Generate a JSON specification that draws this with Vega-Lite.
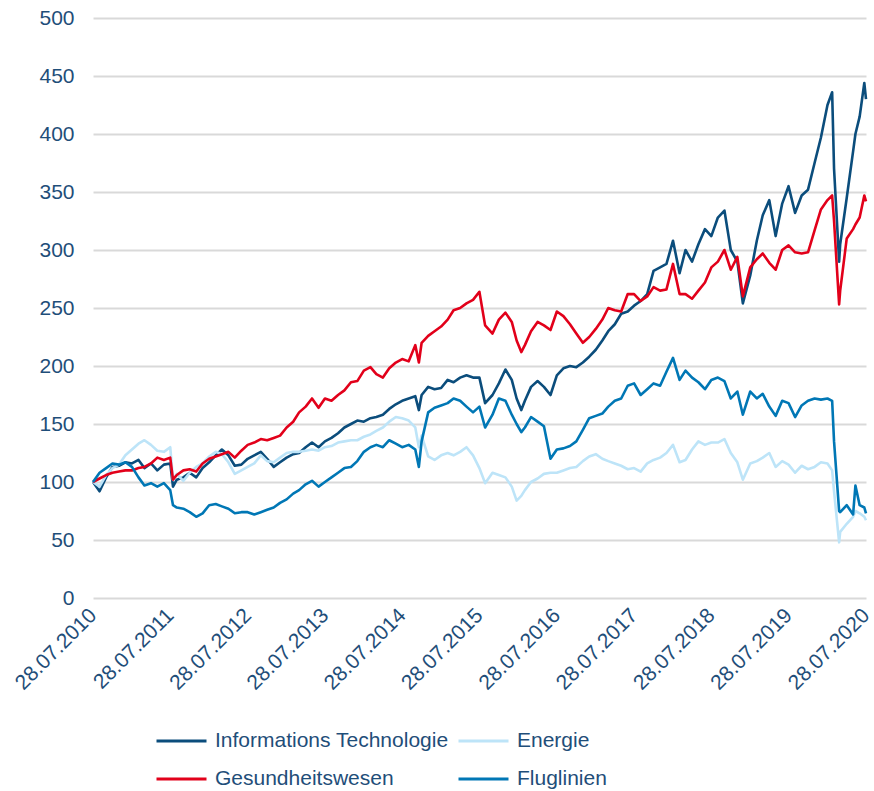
{
"$schema":"https://vega.github.io/schema/vega-lite/v6.json",
"width":773,"height":580,
"autosize":{"type":"none"},
"padding":{"left":93,"top":18,"right":8,"bottom":193},
"background":"white",
"config":{"font":"Liberation Sans","view":{"stroke":null}},
"data":{"values":[
{"Datum":"2010-07-28","Serie":"Informations Technologie","Wert":100},{"Datum":"2010-07-28","Serie":"Energie","Wert":100},{"Datum":"2010-07-28","Serie":"Gesundheitswesen","Wert":100},{"Datum":"2010-07-28","Serie":"Fluglinien","Wert":100},
{"Datum":"2010-08-28","Serie":"Informations Technologie","Wert":92},{"Datum":"2010-08-28","Serie":"Energie","Wert":96},{"Datum":"2010-08-28","Serie":"Gesundheitswesen","Wert":103},{"Datum":"2010-08-28","Serie":"Fluglinien","Wert":108},
{"Datum":"2010-09-28","Serie":"Informations Technologie","Wert":104},{"Datum":"2010-09-28","Serie":"Energie","Wert":106},{"Datum":"2010-09-28","Serie":"Gesundheitswesen","Wert":106},{"Datum":"2010-09-28","Serie":"Fluglinien","Wert":112},
{"Datum":"2010-10-28","Serie":"Informations Technologie","Wert":113},{"Datum":"2010-10-28","Serie":"Energie","Wert":112},{"Datum":"2010-10-28","Serie":"Gesundheitswesen","Wert":108},{"Datum":"2010-10-28","Serie":"Fluglinien","Wert":116},
{"Datum":"2010-11-28","Serie":"Informations Technologie","Wert":114},{"Datum":"2010-11-28","Serie":"Energie","Wert":115},{"Datum":"2010-11-28","Serie":"Gesundheitswesen","Wert":109},{"Datum":"2010-11-28","Serie":"Fluglinien","Wert":115},
{"Datum":"2010-12-28","Serie":"Informations Technologie","Wert":117},{"Datum":"2010-12-28","Serie":"Energie","Wert":123},{"Datum":"2010-12-28","Serie":"Gesundheitswesen","Wert":110},{"Datum":"2010-12-28","Serie":"Fluglinien","Wert":117},
{"Datum":"2011-01-28","Serie":"Informations Technologie","Wert":116},{"Datum":"2011-01-28","Serie":"Energie","Wert":128},{"Datum":"2011-01-28","Serie":"Gesundheitswesen","Wert":110},{"Datum":"2011-01-28","Serie":"Fluglinien","Wert":113},
{"Datum":"2011-02-28","Serie":"Informations Technologie","Wert":119},{"Datum":"2011-02-28","Serie":"Energie","Wert":133},{"Datum":"2011-02-28","Serie":"Gesundheitswesen","Wert":112},{"Datum":"2011-02-28","Serie":"Fluglinien","Wert":104},
{"Datum":"2011-03-28","Serie":"Informations Technologie","Wert":112},{"Datum":"2011-03-28","Serie":"Energie","Wert":136},{"Datum":"2011-03-28","Serie":"Gesundheitswesen","Wert":113},{"Datum":"2011-03-28","Serie":"Fluglinien","Wert":97},
{"Datum":"2011-04-28","Serie":"Informations Technologie","Wert":116},{"Datum":"2011-04-28","Serie":"Energie","Wert":132},{"Datum":"2011-04-28","Serie":"Gesundheitswesen","Wert":116},{"Datum":"2011-04-28","Serie":"Fluglinien","Wert":99},
{"Datum":"2011-05-28","Serie":"Informations Technologie","Wert":110},{"Datum":"2011-05-28","Serie":"Energie","Wert":127},{"Datum":"2011-05-28","Serie":"Gesundheitswesen","Wert":121},{"Datum":"2011-05-28","Serie":"Fluglinien","Wert":96},
{"Datum":"2011-06-28","Serie":"Informations Technologie","Wert":115},{"Datum":"2011-06-28","Serie":"Energie","Wert":126},{"Datum":"2011-06-28","Serie":"Gesundheitswesen","Wert":119},{"Datum":"2011-06-28","Serie":"Fluglinien","Wert":99},
{"Datum":"2011-07-28","Serie":"Informations Technologie","Wert":116},{"Datum":"2011-07-28","Serie":"Energie","Wert":130},{"Datum":"2011-07-28","Serie":"Gesundheitswesen","Wert":121},{"Datum":"2011-07-28","Serie":"Fluglinien","Wert":93},
{"Datum":"2011-08-10","Serie":"Informations Technologie","Wert":96},{"Datum":"2011-08-10","Serie":"Energie","Wert":102},{"Datum":"2011-08-10","Serie":"Gesundheitswesen","Wert":102},{"Datum":"2011-08-10","Serie":"Fluglinien","Wert":80},
{"Datum":"2011-08-28","Serie":"Informations Technologie","Wert":102},{"Datum":"2011-08-28","Serie":"Energie","Wert":107},{"Datum":"2011-08-28","Serie":"Gesundheitswesen","Wert":106},{"Datum":"2011-08-28","Serie":"Fluglinien","Wert":78},
{"Datum":"2011-09-28","Serie":"Informations Technologie","Wert":104},{"Datum":"2011-09-28","Serie":"Energie","Wert":101},{"Datum":"2011-09-28","Serie":"Gesundheitswesen","Wert":110},{"Datum":"2011-09-28","Serie":"Fluglinien","Wert":77},
{"Datum":"2011-10-28","Serie":"Informations Technologie","Wert":108},{"Datum":"2011-10-28","Serie":"Energie","Wert":108},{"Datum":"2011-10-28","Serie":"Gesundheitswesen","Wert":111},{"Datum":"2011-10-28","Serie":"Fluglinien","Wert":74},
{"Datum":"2011-11-28","Serie":"Informations Technologie","Wert":104},{"Datum":"2011-11-28","Serie":"Energie","Wert":113},{"Datum":"2011-11-28","Serie":"Gesundheitswesen","Wert":109},{"Datum":"2011-11-28","Serie":"Fluglinien","Wert":70},
{"Datum":"2011-12-28","Serie":"Informations Technologie","Wert":112},{"Datum":"2011-12-28","Serie":"Energie","Wert":116},{"Datum":"2011-12-28","Serie":"Gesundheitswesen","Wert":116},{"Datum":"2011-12-28","Serie":"Fluglinien","Wert":73},
{"Datum":"2012-01-28","Serie":"Informations Technologie","Wert":117},{"Datum":"2012-01-28","Serie":"Energie","Wert":122},{"Datum":"2012-01-28","Serie":"Gesundheitswesen","Wert":120},{"Datum":"2012-01-28","Serie":"Fluglinien","Wert":80},
{"Datum":"2012-02-28","Serie":"Informations Technologie","Wert":123},{"Datum":"2012-02-28","Serie":"Energie","Wert":126},{"Datum":"2012-02-28","Serie":"Gesundheitswesen","Wert":122},{"Datum":"2012-02-28","Serie":"Fluglinien","Wert":81},
{"Datum":"2012-03-28","Serie":"Informations Technologie","Wert":128},{"Datum":"2012-03-28","Serie":"Energie","Wert":124},{"Datum":"2012-03-28","Serie":"Gesundheitswesen","Wert":124},{"Datum":"2012-03-28","Serie":"Fluglinien","Wert":79},
{"Datum":"2012-04-28","Serie":"Informations Technologie","Wert":123},{"Datum":"2012-04-28","Serie":"Energie","Wert":117},{"Datum":"2012-04-28","Serie":"Gesundheitswesen","Wert":126},{"Datum":"2012-04-28","Serie":"Fluglinien","Wert":77},
{"Datum":"2012-05-28","Serie":"Informations Technologie","Wert":114},{"Datum":"2012-05-28","Serie":"Energie","Wert":107},{"Datum":"2012-05-28","Serie":"Gesundheitswesen","Wert":121},{"Datum":"2012-05-28","Serie":"Fluglinien","Wert":73},
{"Datum":"2012-06-28","Serie":"Informations Technologie","Wert":115},{"Datum":"2012-06-28","Serie":"Energie","Wert":110},{"Datum":"2012-06-28","Serie":"Gesundheitswesen","Wert":127},{"Datum":"2012-06-28","Serie":"Fluglinien","Wert":74},
{"Datum":"2012-07-28","Serie":"Informations Technologie","Wert":120},{"Datum":"2012-07-28","Serie":"Energie","Wert":113},{"Datum":"2012-07-28","Serie":"Gesundheitswesen","Wert":132},{"Datum":"2012-07-28","Serie":"Fluglinien","Wert":74},
{"Datum":"2012-08-28","Serie":"Informations Technologie","Wert":123},{"Datum":"2012-08-28","Serie":"Energie","Wert":116},{"Datum":"2012-08-28","Serie":"Gesundheitswesen","Wert":134},{"Datum":"2012-08-28","Serie":"Fluglinien","Wert":72},
{"Datum":"2012-09-28","Serie":"Informations Technologie","Wert":126},{"Datum":"2012-09-28","Serie":"Energie","Wert":123},{"Datum":"2012-09-28","Serie":"Gesundheitswesen","Wert":137},{"Datum":"2012-09-28","Serie":"Fluglinien","Wert":74},
{"Datum":"2012-10-28","Serie":"Informations Technologie","Wert":120},{"Datum":"2012-10-28","Serie":"Energie","Wert":118},{"Datum":"2012-10-28","Serie":"Gesundheitswesen","Wert":136},{"Datum":"2012-10-28","Serie":"Fluglinien","Wert":76},
{"Datum":"2012-11-28","Serie":"Informations Technologie","Wert":113},{"Datum":"2012-11-28","Serie":"Energie","Wert":117},{"Datum":"2012-11-28","Serie":"Gesundheitswesen","Wert":138},{"Datum":"2012-11-28","Serie":"Fluglinien","Wert":78},
{"Datum":"2012-12-28","Serie":"Informations Technologie","Wert":117},{"Datum":"2012-12-28","Serie":"Energie","Wert":121},{"Datum":"2012-12-28","Serie":"Gesundheitswesen","Wert":140},{"Datum":"2012-12-28","Serie":"Fluglinien","Wert":82},
{"Datum":"2013-01-28","Serie":"Informations Technologie","Wert":121},{"Datum":"2013-01-28","Serie":"Energie","Wert":125},{"Datum":"2013-01-28","Serie":"Gesundheitswesen","Wert":147},{"Datum":"2013-01-28","Serie":"Fluglinien","Wert":85},
{"Datum":"2013-02-28","Serie":"Informations Technologie","Wert":124},{"Datum":"2013-02-28","Serie":"Energie","Wert":126},{"Datum":"2013-02-28","Serie":"Gesundheitswesen","Wert":152},{"Datum":"2013-02-28","Serie":"Fluglinien","Wert":90},
{"Datum":"2013-03-28","Serie":"Informations Technologie","Wert":125},{"Datum":"2013-03-28","Serie":"Energie","Wert":126},{"Datum":"2013-03-28","Serie":"Gesundheitswesen","Wert":160},{"Datum":"2013-03-28","Serie":"Fluglinien","Wert":93},
{"Datum":"2013-04-28","Serie":"Informations Technologie","Wert":130},{"Datum":"2013-04-28","Serie":"Energie","Wert":127},{"Datum":"2013-04-28","Serie":"Gesundheitswesen","Wert":165},{"Datum":"2013-04-28","Serie":"Fluglinien","Wert":98},
{"Datum":"2013-05-28","Serie":"Informations Technologie","Wert":134},{"Datum":"2013-05-28","Serie":"Energie","Wert":128},{"Datum":"2013-05-28","Serie":"Gesundheitswesen","Wert":172},{"Datum":"2013-05-28","Serie":"Fluglinien","Wert":101},
{"Datum":"2013-06-28","Serie":"Informations Technologie","Wert":130},{"Datum":"2013-06-28","Serie":"Energie","Wert":127},{"Datum":"2013-06-28","Serie":"Gesundheitswesen","Wert":164},{"Datum":"2013-06-28","Serie":"Fluglinien","Wert":96},
{"Datum":"2013-07-28","Serie":"Informations Technologie","Wert":135},{"Datum":"2013-07-28","Serie":"Energie","Wert":130},{"Datum":"2013-07-28","Serie":"Gesundheitswesen","Wert":172},{"Datum":"2013-07-28","Serie":"Fluglinien","Wert":100},
{"Datum":"2013-08-28","Serie":"Informations Technologie","Wert":138},{"Datum":"2013-08-28","Serie":"Energie","Wert":131},{"Datum":"2013-08-28","Serie":"Gesundheitswesen","Wert":170},{"Datum":"2013-08-28","Serie":"Fluglinien","Wert":104},
{"Datum":"2013-09-28","Serie":"Informations Technologie","Wert":142},{"Datum":"2013-09-28","Serie":"Energie","Wert":134},{"Datum":"2013-09-28","Serie":"Gesundheitswesen","Wert":175},{"Datum":"2013-09-28","Serie":"Fluglinien","Wert":108},
{"Datum":"2013-10-28","Serie":"Informations Technologie","Wert":147},{"Datum":"2013-10-28","Serie":"Energie","Wert":135},{"Datum":"2013-10-28","Serie":"Gesundheitswesen","Wert":179},{"Datum":"2013-10-28","Serie":"Fluglinien","Wert":112},
{"Datum":"2013-11-28","Serie":"Informations Technologie","Wert":150},{"Datum":"2013-11-28","Serie":"Energie","Wert":136},{"Datum":"2013-11-28","Serie":"Gesundheitswesen","Wert":186},{"Datum":"2013-11-28","Serie":"Fluglinien","Wert":113},
{"Datum":"2013-12-28","Serie":"Informations Technologie","Wert":153},{"Datum":"2013-12-28","Serie":"Energie","Wert":136},{"Datum":"2013-12-28","Serie":"Gesundheitswesen","Wert":187},{"Datum":"2013-12-28","Serie":"Fluglinien","Wert":118},
{"Datum":"2014-01-28","Serie":"Informations Technologie","Wert":152},{"Datum":"2014-01-28","Serie":"Energie","Wert":139},{"Datum":"2014-01-28","Serie":"Gesundheitswesen","Wert":196},{"Datum":"2014-01-28","Serie":"Fluglinien","Wert":126},
{"Datum":"2014-02-28","Serie":"Informations Technologie","Wert":155},{"Datum":"2014-02-28","Serie":"Energie","Wert":141},{"Datum":"2014-02-28","Serie":"Gesundheitswesen","Wert":199},{"Datum":"2014-02-28","Serie":"Fluglinien","Wert":130},
{"Datum":"2014-03-28","Serie":"Informations Technologie","Wert":156},{"Datum":"2014-03-28","Serie":"Energie","Wert":144},{"Datum":"2014-03-28","Serie":"Gesundheitswesen","Wert":193},{"Datum":"2014-03-28","Serie":"Fluglinien","Wert":132},
{"Datum":"2014-04-28","Serie":"Informations Technologie","Wert":158},{"Datum":"2014-04-28","Serie":"Energie","Wert":147},{"Datum":"2014-04-28","Serie":"Gesundheitswesen","Wert":190},{"Datum":"2014-04-28","Serie":"Fluglinien","Wert":130},
{"Datum":"2014-05-28","Serie":"Informations Technologie","Wert":163},{"Datum":"2014-05-28","Serie":"Energie","Wert":152},{"Datum":"2014-05-28","Serie":"Gesundheitswesen","Wert":198},{"Datum":"2014-05-28","Serie":"Fluglinien","Wert":136},
{"Datum":"2014-06-28","Serie":"Informations Technologie","Wert":167},{"Datum":"2014-06-28","Serie":"Energie","Wert":156},{"Datum":"2014-06-28","Serie":"Gesundheitswesen","Wert":203},{"Datum":"2014-06-28","Serie":"Fluglinien","Wert":133},
{"Datum":"2014-07-28","Serie":"Informations Technologie","Wert":170},{"Datum":"2014-07-28","Serie":"Energie","Wert":155},{"Datum":"2014-07-28","Serie":"Gesundheitswesen","Wert":206},{"Datum":"2014-07-28","Serie":"Fluglinien","Wert":130},
{"Datum":"2014-08-28","Serie":"Informations Technologie","Wert":172},{"Datum":"2014-08-28","Serie":"Energie","Wert":153},{"Datum":"2014-08-28","Serie":"Gesundheitswesen","Wert":204},{"Datum":"2014-08-28","Serie":"Fluglinien","Wert":132},
{"Datum":"2014-09-28","Serie":"Informations Technologie","Wert":174},{"Datum":"2014-09-28","Serie":"Energie","Wert":147},{"Datum":"2014-09-28","Serie":"Gesundheitswesen","Wert":218},{"Datum":"2014-09-28","Serie":"Fluglinien","Wert":128},
{"Datum":"2014-10-15","Serie":"Informations Technologie","Wert":162},{"Datum":"2014-10-15","Serie":"Energie","Wert":130},{"Datum":"2014-10-15","Serie":"Gesundheitswesen","Wert":203},{"Datum":"2014-10-15","Serie":"Fluglinien","Wert":113},
{"Datum":"2014-10-28","Serie":"Informations Technologie","Wert":175},{"Datum":"2014-10-28","Serie":"Energie","Wert":140},{"Datum":"2014-10-28","Serie":"Gesundheitswesen","Wert":220},{"Datum":"2014-10-28","Serie":"Fluglinien","Wert":135},
{"Datum":"2014-11-28","Serie":"Informations Technologie","Wert":182},{"Datum":"2014-11-28","Serie":"Energie","Wert":122},{"Datum":"2014-11-28","Serie":"Gesundheitswesen","Wert":226},{"Datum":"2014-11-28","Serie":"Fluglinien","Wert":160},
{"Datum":"2014-12-28","Serie":"Informations Technologie","Wert":180},{"Datum":"2014-12-28","Serie":"Energie","Wert":119},{"Datum":"2014-12-28","Serie":"Gesundheitswesen","Wert":230},{"Datum":"2014-12-28","Serie":"Fluglinien","Wert":164},
{"Datum":"2015-01-28","Serie":"Informations Technologie","Wert":181},{"Datum":"2015-01-28","Serie":"Energie","Wert":123},{"Datum":"2015-01-28","Serie":"Gesundheitswesen","Wert":234},{"Datum":"2015-01-28","Serie":"Fluglinien","Wert":166},
{"Datum":"2015-02-28","Serie":"Informations Technologie","Wert":188},{"Datum":"2015-02-28","Serie":"Energie","Wert":125},{"Datum":"2015-02-28","Serie":"Gesundheitswesen","Wert":240},{"Datum":"2015-02-28","Serie":"Fluglinien","Wert":168},
{"Datum":"2015-03-28","Serie":"Informations Technologie","Wert":186},{"Datum":"2015-03-28","Serie":"Energie","Wert":123},{"Datum":"2015-03-28","Serie":"Gesundheitswesen","Wert":248},{"Datum":"2015-03-28","Serie":"Fluglinien","Wert":172},
{"Datum":"2015-04-28","Serie":"Informations Technologie","Wert":190},{"Datum":"2015-04-28","Serie":"Energie","Wert":126},{"Datum":"2015-04-28","Serie":"Gesundheitswesen","Wert":250},{"Datum":"2015-04-28","Serie":"Fluglinien","Wert":170},
{"Datum":"2015-05-28","Serie":"Informations Technologie","Wert":192},{"Datum":"2015-05-28","Serie":"Energie","Wert":130},{"Datum":"2015-05-28","Serie":"Gesundheitswesen","Wert":254},{"Datum":"2015-05-28","Serie":"Fluglinien","Wert":165},
{"Datum":"2015-06-28","Serie":"Informations Technologie","Wert":190},{"Datum":"2015-06-28","Serie":"Energie","Wert":123},{"Datum":"2015-06-28","Serie":"Gesundheitswesen","Wert":257},{"Datum":"2015-06-28","Serie":"Fluglinien","Wert":160},
{"Datum":"2015-07-28","Serie":"Informations Technologie","Wert":190},{"Datum":"2015-07-28","Serie":"Energie","Wert":112},{"Datum":"2015-07-28","Serie":"Gesundheitswesen","Wert":264},{"Datum":"2015-07-28","Serie":"Fluglinien","Wert":165},
{"Datum":"2015-08-24","Serie":"Informations Technologie","Wert":168},{"Datum":"2015-08-24","Serie":"Energie","Wert":99},{"Datum":"2015-08-24","Serie":"Gesundheitswesen","Wert":235},{"Datum":"2015-08-24","Serie":"Fluglinien","Wert":147},
{"Datum":"2015-09-28","Serie":"Informations Technologie","Wert":175},{"Datum":"2015-09-28","Serie":"Energie","Wert":108},{"Datum":"2015-09-28","Serie":"Gesundheitswesen","Wert":228},{"Datum":"2015-09-28","Serie":"Fluglinien","Wert":158},
{"Datum":"2015-10-28","Serie":"Informations Technologie","Wert":185},{"Datum":"2015-10-28","Serie":"Energie","Wert":106},{"Datum":"2015-10-28","Serie":"Gesundheitswesen","Wert":240},{"Datum":"2015-10-28","Serie":"Fluglinien","Wert":172},
{"Datum":"2015-11-28","Serie":"Informations Technologie","Wert":197},{"Datum":"2015-11-28","Serie":"Energie","Wert":104},{"Datum":"2015-11-28","Serie":"Gesundheitswesen","Wert":246},{"Datum":"2015-11-28","Serie":"Fluglinien","Wert":170},
{"Datum":"2015-12-28","Serie":"Informations Technologie","Wert":188},{"Datum":"2015-12-28","Serie":"Energie","Wert":96},{"Datum":"2015-12-28","Serie":"Gesundheitswesen","Wert":238},{"Datum":"2015-12-28","Serie":"Fluglinien","Wert":158},
{"Datum":"2016-01-20","Serie":"Informations Technologie","Wert":172},{"Datum":"2016-01-20","Serie":"Energie","Wert":84},{"Datum":"2016-01-20","Serie":"Gesundheitswesen","Wert":222},{"Datum":"2016-01-20","Serie":"Fluglinien","Wert":150},
{"Datum":"2016-02-11","Serie":"Informations Technologie","Wert":162},{"Datum":"2016-02-11","Serie":"Energie","Wert":88},{"Datum":"2016-02-11","Serie":"Gesundheitswesen","Wert":212},{"Datum":"2016-02-11","Serie":"Fluglinien","Wert":143},
{"Datum":"2016-02-28","Serie":"Informations Technologie","Wert":170},{"Datum":"2016-02-28","Serie":"Energie","Wert":93},{"Datum":"2016-02-28","Serie":"Gesundheitswesen","Wert":218},{"Datum":"2016-02-28","Serie":"Fluglinien","Wert":147},
{"Datum":"2016-03-28","Serie":"Informations Technologie","Wert":182},{"Datum":"2016-03-28","Serie":"Energie","Wert":100},{"Datum":"2016-03-28","Serie":"Gesundheitswesen","Wert":230},{"Datum":"2016-03-28","Serie":"Fluglinien","Wert":156},
{"Datum":"2016-04-28","Serie":"Informations Technologie","Wert":187},{"Datum":"2016-04-28","Serie":"Energie","Wert":103},{"Datum":"2016-04-28","Serie":"Gesundheitswesen","Wert":238},{"Datum":"2016-04-28","Serie":"Fluglinien","Wert":152},
{"Datum":"2016-05-28","Serie":"Informations Technologie","Wert":182},{"Datum":"2016-05-28","Serie":"Energie","Wert":107},{"Datum":"2016-05-28","Serie":"Gesundheitswesen","Wert":235},{"Datum":"2016-05-28","Serie":"Fluglinien","Wert":148},
{"Datum":"2016-06-28","Serie":"Informations Technologie","Wert":175},{"Datum":"2016-06-28","Serie":"Energie","Wert":108},{"Datum":"2016-06-28","Serie":"Gesundheitswesen","Wert":231},{"Datum":"2016-06-28","Serie":"Fluglinien","Wert":120},
{"Datum":"2016-07-28","Serie":"Informations Technologie","Wert":192},{"Datum":"2016-07-28","Serie":"Energie","Wert":108},{"Datum":"2016-07-28","Serie":"Gesundheitswesen","Wert":247},{"Datum":"2016-07-28","Serie":"Fluglinien","Wert":128},
{"Datum":"2016-08-28","Serie":"Informations Technologie","Wert":198},{"Datum":"2016-08-28","Serie":"Energie","Wert":110},{"Datum":"2016-08-28","Serie":"Gesundheitswesen","Wert":243},{"Datum":"2016-08-28","Serie":"Fluglinien","Wert":129},
{"Datum":"2016-09-28","Serie":"Informations Technologie","Wert":200},{"Datum":"2016-09-28","Serie":"Energie","Wert":112},{"Datum":"2016-09-28","Serie":"Gesundheitswesen","Wert":236},{"Datum":"2016-09-28","Serie":"Fluglinien","Wert":131},
{"Datum":"2016-10-28","Serie":"Informations Technologie","Wert":199},{"Datum":"2016-10-28","Serie":"Energie","Wert":113},{"Datum":"2016-10-28","Serie":"Gesundheitswesen","Wert":228},{"Datum":"2016-10-28","Serie":"Fluglinien","Wert":135},
{"Datum":"2016-11-28","Serie":"Informations Technologie","Wert":203},{"Datum":"2016-11-28","Serie":"Energie","Wert":118},{"Datum":"2016-11-28","Serie":"Gesundheitswesen","Wert":220},{"Datum":"2016-11-28","Serie":"Fluglinien","Wert":145},
{"Datum":"2016-12-28","Serie":"Informations Technologie","Wert":208},{"Datum":"2016-12-28","Serie":"Energie","Wert":122},{"Datum":"2016-12-28","Serie":"Gesundheitswesen","Wert":225},{"Datum":"2016-12-28","Serie":"Fluglinien","Wert":155},
{"Datum":"2017-01-28","Serie":"Informations Technologie","Wert":214},{"Datum":"2017-01-28","Serie":"Energie","Wert":124},{"Datum":"2017-01-28","Serie":"Gesundheitswesen","Wert":232},{"Datum":"2017-01-28","Serie":"Fluglinien","Wert":157},
{"Datum":"2017-02-28","Serie":"Informations Technologie","Wert":222},{"Datum":"2017-02-28","Serie":"Energie","Wert":120},{"Datum":"2017-02-28","Serie":"Gesundheitswesen","Wert":240},{"Datum":"2017-02-28","Serie":"Fluglinien","Wert":159},
{"Datum":"2017-03-28","Serie":"Informations Technologie","Wert":230},{"Datum":"2017-03-28","Serie":"Energie","Wert":118},{"Datum":"2017-03-28","Serie":"Gesundheitswesen","Wert":250},{"Datum":"2017-03-28","Serie":"Fluglinien","Wert":165},
{"Datum":"2017-04-28","Serie":"Informations Technologie","Wert":236},{"Datum":"2017-04-28","Serie":"Energie","Wert":116},{"Datum":"2017-04-28","Serie":"Gesundheitswesen","Wert":248},{"Datum":"2017-04-28","Serie":"Fluglinien","Wert":170},
{"Datum":"2017-05-28","Serie":"Informations Technologie","Wert":245},{"Datum":"2017-05-28","Serie":"Energie","Wert":114},{"Datum":"2017-05-28","Serie":"Gesundheitswesen","Wert":247},{"Datum":"2017-05-28","Serie":"Fluglinien","Wert":172},
{"Datum":"2017-06-28","Serie":"Informations Technologie","Wert":247},{"Datum":"2017-06-28","Serie":"Energie","Wert":111},{"Datum":"2017-06-28","Serie":"Gesundheitswesen","Wert":262},{"Datum":"2017-06-28","Serie":"Fluglinien","Wert":183},
{"Datum":"2017-07-28","Serie":"Informations Technologie","Wert":252},{"Datum":"2017-07-28","Serie":"Energie","Wert":112},{"Datum":"2017-07-28","Serie":"Gesundheitswesen","Wert":262},{"Datum":"2017-07-28","Serie":"Fluglinien","Wert":185},
{"Datum":"2017-08-28","Serie":"Informations Technologie","Wert":256},{"Datum":"2017-08-28","Serie":"Energie","Wert":109},{"Datum":"2017-08-28","Serie":"Gesundheitswesen","Wert":256},{"Datum":"2017-08-28","Serie":"Fluglinien","Wert":175},
{"Datum":"2017-09-28","Serie":"Informations Technologie","Wert":262},{"Datum":"2017-09-28","Serie":"Energie","Wert":116},{"Datum":"2017-09-28","Serie":"Gesundheitswesen","Wert":260},{"Datum":"2017-09-28","Serie":"Fluglinien","Wert":180},
{"Datum":"2017-10-28","Serie":"Informations Technologie","Wert":282},{"Datum":"2017-10-28","Serie":"Energie","Wert":119},{"Datum":"2017-10-28","Serie":"Gesundheitswesen","Wert":268},{"Datum":"2017-10-28","Serie":"Fluglinien","Wert":185},
{"Datum":"2017-11-28","Serie":"Informations Technologie","Wert":285},{"Datum":"2017-11-28","Serie":"Energie","Wert":121},{"Datum":"2017-11-28","Serie":"Gesundheitswesen","Wert":265},{"Datum":"2017-11-28","Serie":"Fluglinien","Wert":183},
{"Datum":"2017-12-28","Serie":"Informations Technologie","Wert":288},{"Datum":"2017-12-28","Serie":"Energie","Wert":125},{"Datum":"2017-12-28","Serie":"Gesundheitswesen","Wert":266},{"Datum":"2017-12-28","Serie":"Fluglinien","Wert":195},
{"Datum":"2018-01-28","Serie":"Informations Technologie","Wert":308},{"Datum":"2018-01-28","Serie":"Energie","Wert":132},{"Datum":"2018-01-28","Serie":"Gesundheitswesen","Wert":288},{"Datum":"2018-01-28","Serie":"Fluglinien","Wert":207},
{"Datum":"2018-02-28","Serie":"Informations Technologie","Wert":280},{"Datum":"2018-02-28","Serie":"Energie","Wert":117},{"Datum":"2018-02-28","Serie":"Gesundheitswesen","Wert":262},{"Datum":"2018-02-28","Serie":"Fluglinien","Wert":188},
{"Datum":"2018-03-28","Serie":"Informations Technologie","Wert":300},{"Datum":"2018-03-28","Serie":"Energie","Wert":119},{"Datum":"2018-03-28","Serie":"Gesundheitswesen","Wert":262},{"Datum":"2018-03-28","Serie":"Fluglinien","Wert":196},
{"Datum":"2018-04-28","Serie":"Informations Technologie","Wert":290},{"Datum":"2018-04-28","Serie":"Energie","Wert":128},{"Datum":"2018-04-28","Serie":"Gesundheitswesen","Wert":258},{"Datum":"2018-04-28","Serie":"Fluglinien","Wert":190},
{"Datum":"2018-05-28","Serie":"Informations Technologie","Wert":305},{"Datum":"2018-05-28","Serie":"Energie","Wert":135},{"Datum":"2018-05-28","Serie":"Gesundheitswesen","Wert":265},{"Datum":"2018-05-28","Serie":"Fluglinien","Wert":186},
{"Datum":"2018-06-28","Serie":"Informations Technologie","Wert":318},{"Datum":"2018-06-28","Serie":"Energie","Wert":132},{"Datum":"2018-06-28","Serie":"Gesundheitswesen","Wert":272},{"Datum":"2018-06-28","Serie":"Fluglinien","Wert":180},
{"Datum":"2018-07-28","Serie":"Informations Technologie","Wert":312},{"Datum":"2018-07-28","Serie":"Energie","Wert":134},{"Datum":"2018-07-28","Serie":"Gesundheitswesen","Wert":285},{"Datum":"2018-07-28","Serie":"Fluglinien","Wert":188},
{"Datum":"2018-08-28","Serie":"Informations Technologie","Wert":328},{"Datum":"2018-08-28","Serie":"Energie","Wert":134},{"Datum":"2018-08-28","Serie":"Gesundheitswesen","Wert":290},{"Datum":"2018-08-28","Serie":"Fluglinien","Wert":190},
{"Datum":"2018-09-28","Serie":"Informations Technologie","Wert":334},{"Datum":"2018-09-28","Serie":"Energie","Wert":137},{"Datum":"2018-09-28","Serie":"Gesundheitswesen","Wert":300},{"Datum":"2018-09-28","Serie":"Fluglinien","Wert":187},
{"Datum":"2018-10-28","Serie":"Informations Technologie","Wert":300},{"Datum":"2018-10-28","Serie":"Energie","Wert":125},{"Datum":"2018-10-28","Serie":"Gesundheitswesen","Wert":283},{"Datum":"2018-10-28","Serie":"Fluglinien","Wert":172},
{"Datum":"2018-11-28","Serie":"Informations Technologie","Wert":290},{"Datum":"2018-11-28","Serie":"Energie","Wert":117},{"Datum":"2018-11-28","Serie":"Gesundheitswesen","Wert":294},{"Datum":"2018-11-28","Serie":"Fluglinien","Wert":178},
{"Datum":"2018-12-24","Serie":"Informations Technologie","Wert":254},{"Datum":"2018-12-24","Serie":"Energie","Wert":102},{"Datum":"2018-12-24","Serie":"Gesundheitswesen","Wert":260},{"Datum":"2018-12-24","Serie":"Fluglinien","Wert":158},
{"Datum":"2019-01-28","Serie":"Informations Technologie","Wert":278},{"Datum":"2019-01-28","Serie":"Energie","Wert":116},{"Datum":"2019-01-28","Serie":"Gesundheitswesen","Wert":285},{"Datum":"2019-01-28","Serie":"Fluglinien","Wert":178},
{"Datum":"2019-02-28","Serie":"Informations Technologie","Wert":308},{"Datum":"2019-02-28","Serie":"Energie","Wert":118},{"Datum":"2019-02-28","Serie":"Gesundheitswesen","Wert":292},{"Datum":"2019-02-28","Serie":"Fluglinien","Wert":172},
{"Datum":"2019-03-28","Serie":"Informations Technologie","Wert":330},{"Datum":"2019-03-28","Serie":"Energie","Wert":121},{"Datum":"2019-03-28","Serie":"Gesundheitswesen","Wert":297},{"Datum":"2019-03-28","Serie":"Fluglinien","Wert":176},
{"Datum":"2019-04-28","Serie":"Informations Technologie","Wert":343},{"Datum":"2019-04-28","Serie":"Energie","Wert":125},{"Datum":"2019-04-28","Serie":"Gesundheitswesen","Wert":289},{"Datum":"2019-04-28","Serie":"Fluglinien","Wert":165},
{"Datum":"2019-05-28","Serie":"Informations Technologie","Wert":312},{"Datum":"2019-05-28","Serie":"Energie","Wert":113},{"Datum":"2019-05-28","Serie":"Gesundheitswesen","Wert":283},{"Datum":"2019-05-28","Serie":"Fluglinien","Wert":157},
{"Datum":"2019-06-28","Serie":"Informations Technologie","Wert":340},{"Datum":"2019-06-28","Serie":"Energie","Wert":118},{"Datum":"2019-06-28","Serie":"Gesundheitswesen","Wert":300},{"Datum":"2019-06-28","Serie":"Fluglinien","Wert":170},
{"Datum":"2019-07-28","Serie":"Informations Technologie","Wert":355},{"Datum":"2019-07-28","Serie":"Energie","Wert":115},{"Datum":"2019-07-28","Serie":"Gesundheitswesen","Wert":304},{"Datum":"2019-07-28","Serie":"Fluglinien","Wert":168},
{"Datum":"2019-08-28","Serie":"Informations Technologie","Wert":332},{"Datum":"2019-08-28","Serie":"Energie","Wert":108},{"Datum":"2019-08-28","Serie":"Gesundheitswesen","Wert":298},{"Datum":"2019-08-28","Serie":"Fluglinien","Wert":156},
{"Datum":"2019-09-28","Serie":"Informations Technologie","Wert":347},{"Datum":"2019-09-28","Serie":"Energie","Wert":114},{"Datum":"2019-09-28","Serie":"Gesundheitswesen","Wert":297},{"Datum":"2019-09-28","Serie":"Fluglinien","Wert":166},
{"Datum":"2019-10-28","Serie":"Informations Technologie","Wert":352},{"Datum":"2019-10-28","Serie":"Energie","Wert":111},{"Datum":"2019-10-28","Serie":"Gesundheitswesen","Wert":298},{"Datum":"2019-10-28","Serie":"Fluglinien","Wert":170},
{"Datum":"2019-11-28","Serie":"Informations Technologie","Wert":375},{"Datum":"2019-11-28","Serie":"Energie","Wert":113},{"Datum":"2019-11-28","Serie":"Gesundheitswesen","Wert":317},{"Datum":"2019-11-28","Serie":"Fluglinien","Wert":172},
{"Datum":"2019-12-28","Serie":"Informations Technologie","Wert":397},{"Datum":"2019-12-28","Serie":"Energie","Wert":117},{"Datum":"2019-12-28","Serie":"Gesundheitswesen","Wert":335},{"Datum":"2019-12-28","Serie":"Fluglinien","Wert":171},
{"Datum":"2020-01-28","Serie":"Informations Technologie","Wert":425},{"Datum":"2020-01-28","Serie":"Energie","Wert":116},{"Datum":"2020-01-28","Serie":"Gesundheitswesen","Wert":343},{"Datum":"2020-01-28","Serie":"Fluglinien","Wert":172},
{"Datum":"2020-02-19","Serie":"Informations Technologie","Wert":436},{"Datum":"2020-02-19","Serie":"Energie","Wert":110},{"Datum":"2020-02-19","Serie":"Gesundheitswesen","Wert":347},{"Datum":"2020-02-19","Serie":"Fluglinien","Wert":170},
{"Datum":"2020-02-28","Serie":"Informations Technologie","Wert":370},{"Datum":"2020-02-28","Serie":"Energie","Wert":92},{"Datum":"2020-02-28","Serie":"Gesundheitswesen","Wert":325},{"Datum":"2020-02-28","Serie":"Fluglinien","Wert":135},
{"Datum":"2020-03-23","Serie":"Informations Technologie","Wert":290},{"Datum":"2020-03-23","Serie":"Energie","Wert":48},{"Datum":"2020-03-23","Serie":"Gesundheitswesen","Wert":253},{"Datum":"2020-03-23","Serie":"Fluglinien","Wert":75},
{"Datum":"2020-03-28","Serie":"Informations Technologie","Wert":305},{"Datum":"2020-03-28","Serie":"Energie","Wert":57},{"Datum":"2020-03-28","Serie":"Gesundheitswesen","Wert":265},{"Datum":"2020-03-28","Serie":"Fluglinien","Wert":74},
{"Datum":"2020-04-28","Serie":"Informations Technologie","Wert":345},{"Datum":"2020-04-28","Serie":"Energie","Wert":64},{"Datum":"2020-04-28","Serie":"Gesundheitswesen","Wert":310},{"Datum":"2020-04-28","Serie":"Fluglinien","Wert":80},
{"Datum":"2020-05-28","Serie":"Informations Technologie","Wert":385},{"Datum":"2020-05-28","Serie":"Energie","Wert":70},{"Datum":"2020-05-28","Serie":"Gesundheitswesen","Wert":318},{"Datum":"2020-05-28","Serie":"Fluglinien","Wert":72},
{"Datum":"2020-06-08","Serie":"Informations Technologie","Wert":400},{"Datum":"2020-06-08","Serie":"Energie","Wert":75},{"Datum":"2020-06-08","Serie":"Gesundheitswesen","Wert":322},{"Datum":"2020-06-08","Serie":"Fluglinien","Wert":97},
{"Datum":"2020-06-28","Serie":"Informations Technologie","Wert":415},{"Datum":"2020-06-28","Serie":"Energie","Wert":73},{"Datum":"2020-06-28","Serie":"Gesundheitswesen","Wert":328},{"Datum":"2020-06-28","Serie":"Fluglinien","Wert":80},
{"Datum":"2020-07-20","Serie":"Informations Technologie","Wert":444},{"Datum":"2020-07-20","Serie":"Energie","Wert":70},{"Datum":"2020-07-20","Serie":"Gesundheitswesen","Wert":347},{"Datum":"2020-07-20","Serie":"Fluglinien","Wert":78},
{"Datum":"2020-07-28","Serie":"Informations Technologie","Wert":430},{"Datum":"2020-07-28","Serie":"Energie","Wert":67},{"Datum":"2020-07-28","Serie":"Gesundheitswesen","Wert":342},{"Datum":"2020-07-28","Serie":"Fluglinien","Wert":73}
]},
"mark":{"type":"line","strokeWidth":2.6,"strokeJoin":"round"},
"encoding":{
"x":{"field":"Datum","type":"temporal",
"scale":{"type":"utc","domain":[{"year":2010,"month":7,"date":28,"utc":true},{"year":2020,"month":7,"date":28,"utc":true}]},
"axis":{"title":null,"domain":false,"ticks":false,"grid":false,"format":"%d.%m.%Y","labelAngle":-45,"labelAlign":"right","labelBaseline":"middle","labelFontSize":21,"labelColor":"#1F4E79","labelPadding":14,"labelOverlap":false,"labelBound":false,"labelFlush":false,
"values":[{"year":2010,"month":7,"date":28,"utc":true},{"year":2011,"month":7,"date":28,"utc":true},{"year":2012,"month":7,"date":28,"utc":true},{"year":2013,"month":7,"date":28,"utc":true},{"year":2014,"month":7,"date":28,"utc":true},{"year":2015,"month":7,"date":28,"utc":true},{"year":2016,"month":7,"date":28,"utc":true},{"year":2017,"month":7,"date":28,"utc":true},{"year":2018,"month":7,"date":28,"utc":true},{"year":2019,"month":7,"date":28,"utc":true},{"year":2020,"month":7,"date":28,"utc":true}]}},
"y":{"field":"Wert","type":"quantitative","scale":{"domain":[0,500],"nice":false},
"axis":{"title":null,"domain":false,"ticks":false,"values":[0,50,100,150,200,250,300,350,400,450,500],"gridColor":"#D9D9D9","gridWidth":2,"labelFontSize":21,"labelColor":"#1F4E79","labelPadding":19}},
"color":{"field":"Serie","type":"nominal","sort":["Informations Technologie","Energie","Gesundheitswesen","Fluglinien"],
"scale":{"domain":["Informations Technologie","Energie","Gesundheitswesen","Fluglinien"],"range":["#0B4D7C","#BDE4F8","#E2001A","#0077B5"]},
"legend":{"title":null,"orient":"none","legendX":62,"legendY":704,"columns":2,"direction":"horizontal","symbolType":"stroke","symbolSize":2500,"symbolStrokeWidth":3,"labelFontSize":21,"labelColor":"#1F4E79","labelLimit":400,"labelOffset":7,"clipHeight":38,"rowPadding":0,"columnPadding":8}}
}
}
